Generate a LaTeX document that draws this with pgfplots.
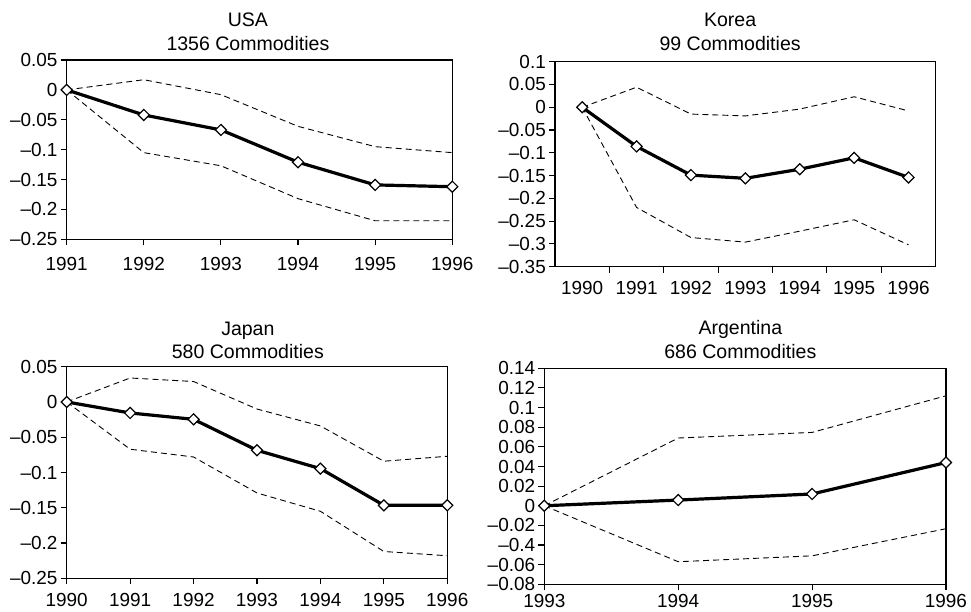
\documentclass[border=0pt]{standalone}
\usepackage{fontspec}
\setmainfont{Liberation Sans}
\usepackage{pgfplots}
\pgfplotsset{compat=1.18}
\newcommand{\tf}{\fontsize{19}{22}\selectfont}
\newcommand{\ttf}{\fontsize{19.6}{23}\selectfont}
\newcommand{\m}{\textendash}
\pgfplotsset{
  panel/.style={
    scale only axis, clip=false,
    axis line style={line width=1.1bp},
    tick align=outside, tick pos=left,
    major tick length=6bp, minor tick length=6bp,
    every tick/.style={line width=1.1bp, black},
    tick label style={font=\tf},
    yticklabel style={inner sep=3bp},
    xticklabel style={inner sep=0bp},
  },
  band/.style={black, line width=0.9bp, dash pattern=on 6bp off 4bp, no marks},
  main/.style={black, line width=3.2bp, mark=square*, mark size=3.9bp,
    mark options={rotate=45, fill=white, draw=black, line width=1.2bp, solid}},
}
\begin{document}
\begin{tikzpicture}
\useasboundingbox (0,0) rectangle (971bp,-612bp);

% USA
\begin{axis}[panel, at={(66.7bp,-60bp)}, anchor=north west,
  width=385.6bp, height=179.3bp,
  xmin=1991, xmax=1996, ymin=-0.25, ymax=0.05,
  xtick={1991,...,1996}, xticklabels={1991,1992,1993,1994,1995,1996},
  xticklabel style={yshift=-12bp},
  ytick={-0.25,-0.2,-0.15,-0.1,-0.05,0,0.05},
  yticklabels={\m0.25,\m0.2,\m0.15,\m0.1,\m0.05,0,0.05}]
\addplot[band] coordinates {(1991,0) (1992,0.017) (1993,-0.008) (1994,-0.061) (1995,-0.095) (1996,-0.105)};
\addplot[band] coordinates {(1991,0) (1992,-0.105) (1993,-0.127) (1994,-0.182) (1995,-0.219) (1996,-0.219)};
\addplot[main] coordinates {(1991,0) (1992,-0.042) (1993,-0.067) (1994,-0.121) (1995,-0.159) (1996,-0.162)};
\node[anchor=base, font=\ttf] at (rel axis cs:0.47,1) [yshift=34bp] {USA};
\node[anchor=base, font=\ttf] at (rel axis cs:0.47,1) [yshift=10bp] {1356 Commodities};
\end{axis}

% Korea
\begin{axis}[panel, at={(555bp,-61.7bp)}, anchor=north west,
  width=380.7bp, height=205bp,
  xmin=-0.5, xmax=6.5, ymin=-0.35, ymax=0.1,
  xtick={0,...,6}, xticklabels={1990,1991,1992,1993,1994,1995,1996},
  major x tick style={draw=none},
  minor xtick={0.5,1.5,2.5,3.5,4.5,5.5},
  xticklabel style={yshift=-8bp},
  ytick={-0.35,-0.3,-0.25,-0.2,-0.15,-0.1,-0.05,0,0.05,0.1},
  yticklabels={\m0.35,\m0.3,\m0.25,\m0.2,\m0.15,\m0.1,\m0.05,0,0.05,0.1}]
\addplot[band] coordinates {(0,0) (1,0.044) (2,-0.015) (3,-0.019) (4,-0.004) (5,0.023) (6,-0.008)};
\addplot[band] coordinates {(0,0) (1,-0.220) (2,-0.286) (3,-0.296) (4,-0.272) (5,-0.247) (6,-0.302)};
\addplot[main] coordinates {(0,0) (1,-0.086) (2,-0.149) (3,-0.156) (4,-0.136) (5,-0.111) (6,-0.154)};
\node[anchor=base, font=\ttf] at (rel axis cs:0.46,1) [yshift=35.7bp] {Korea};
\node[anchor=base, font=\ttf] at (rel axis cs:0.46,1) [yshift=11.7bp] {99 Commodities};
\end{axis}

% Japan
\begin{axis}[panel, at={(66.7bp,-366.7bp)}, anchor=north west,
  width=380.6bp, height=211.6bp,
  xmin=1990, xmax=1996, ymin=-0.25, ymax=0.05,
  xtick={1990,...,1996}, xticklabels={1990,1991,1992,1993,1994,1995,1996},
  xticklabel style={yshift=-8.5bp},
  ytick={-0.25,-0.2,-0.15,-0.1,-0.05,0,0.05},
  yticklabels={\m0.25,\m0.2,\m0.15,\m0.1,\m0.05,0,0.05}]
\addplot[band] coordinates {(1990,0) (1991,0.034) (1992,0.029) (1993,-0.010) (1994,-0.034) (1995,-0.084) (1996,-0.077)};
\addplot[band] coordinates {(1990,0) (1991,-0.067) (1992,-0.078) (1993,-0.129) (1994,-0.155) (1995,-0.212) (1996,-0.218)};
\addplot[main] coordinates {(1990,0) (1991,-0.0156) (1992,-0.0246) (1993,-0.0685) (1994,-0.0945) (1995,-0.1465) (1996,-0.1465)};
\node[anchor=base, font=\ttf] at (rel axis cs:0.476,1) [yshift=31.7bp] {Japan};
\node[anchor=base, font=\ttf] at (rel axis cs:0.476,1) [yshift=8.4bp] {580 Commodities};
\end{axis}

% Argentina
\begin{axis}[panel, at={(544.3bp,-368.3bp)}, anchor=north west,
  width=401.7bp, height=216bp,
  xmin=1993, xmax=1996, ymin=-0.08, ymax=0.14,
  xtick={1993,...,1996}, xticklabels={1993,1994,1995,1996},
  xticklabel style={yshift=-3.5bp},
  ytick={-0.08,-0.06,-0.04,-0.02,0,0.02,0.04,0.06,0.08,0.1,0.12,0.14},
  yticklabels={\m0.08,\m0.06,\m0.4,\m0.02,0,0.02,0.04,0.06,0.08,0.1,0.12,0.14}]
\addplot[band] coordinates {(1993,0) (1994,0.069) (1995,0.0747) (1996,0.112)};
\addplot[band] coordinates {(1993,0) (1994,-0.057) (1995,-0.051) (1996,-0.0234)};
\addplot[main] coordinates {(1993,0) (1994,0.0058) (1995,0.012) (1996,0.044)};
\node[anchor=base, font=\ttf] at (rel axis cs:0.488,1) [yshift=34bp] {Argentina};
\node[anchor=base, font=\ttf] at (rel axis cs:0.488,1) [yshift=10bp] {686 Commodities};
\end{axis}
\end{tikzpicture}
\end{document}
